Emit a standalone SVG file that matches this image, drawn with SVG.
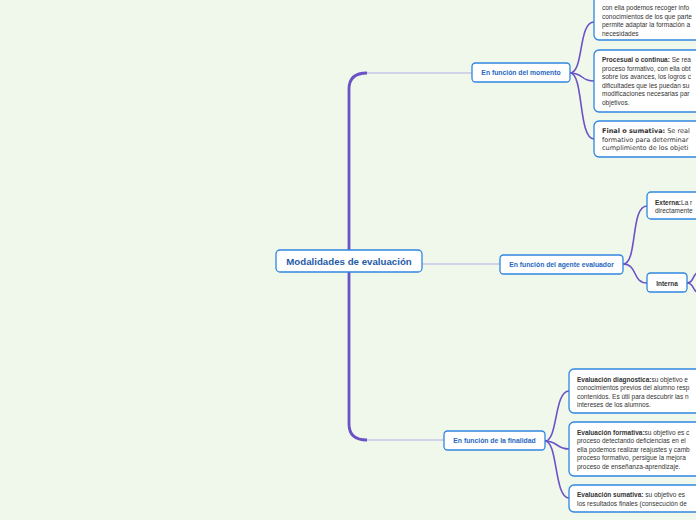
<svg xmlns="http://www.w3.org/2000/svg" width="696" height="520" viewBox="0 0 696 520">
<style>
.bg{fill:#f0f8ec}
.box{fill:#fff;stroke:#2f86e0;stroke-width:1.3}
.l1{font-family:"Liberation Sans",Arial,sans-serif;font-weight:bold;font-size:6.8px;fill:#1f68c0;text-anchor:middle}
.root{font-family:"Liberation Sans",Arial,sans-serif;font-weight:bold;font-size:9.7px;fill:#1f5aa8;text-anchor:middle}
.t{font-family:"Liberation Sans",Arial,sans-serif;font-size:6.5px;fill:#333333}
.b{font-weight:bold}
.tv{font-family:"DejaVu Sans",Verdana,sans-serif;font-size:6.5px;fill:#333333}
.thick{fill:none;stroke:#6b52c6;stroke-width:2.8}
.br{fill:none;stroke:#6b52c6;stroke-width:1.6}
.thin{fill:none;stroke:#b3addf;stroke-width:1}
</style>
<rect class="bg" x="0" y="0" width="696" height="520"/>
<g id="connectors">
<path class="thick" d="M349,262 V89 Q349,73 367,73"/>
<path class="thin" d="M367,73 H472"/>
<path class="thick" d="M349,262 V424 Q349,440 367,440"/>
<path class="thin" d="M367,440 H444"/>
<path class="thin" d="M422,264 H500"/>
<path class="br" d="M570,73 C584,73 578,22 594,22"/>
<path class="br" d="M570,73 C584,73 580,81 594,81"/>
<path class="br" d="M570,73 C584,73 578,139 594,139"/>
<path class="br" d="M623,264 C638,264 630,206 647,206"/>
<path class="br" d="M623,264 C638,264 632,283 647,283"/>
<path class="br" d="M687,283 C694,283 692,275 698,272"/>
<path class="br" d="M687,283 C694,283 692,290 698,293"/>
<path class="br" d="M545,441 C558,441 554,391 569,391"/>
<path class="br" d="M545,441 C558,441 556,449 569,449"/>
<path class="br" d="M545,441 C558,441 554,498 569,498"/>
</g>
<g id="root">
<rect class="box" x="276" y="250" width="146" height="22" rx="4"/>
<text class="root" x="349" y="264.5">Modalidades de evaluación</text>
</g>
<g id="momento">
<rect class="box" x="472" y="63" width="98" height="19" rx="3.5"/>
<text class="l1" x="521" y="75">En función del momento</text>
</g>
<g id="inicial">
<rect class="box" x="594" y="-20" width="130" height="60" rx="5"/>
<text class="t" x="602" y="10">con ella podemos recoger info</text>
<text class="t" x="602" y="18.5">conocimientos de los que parte</text>
<text class="t" x="602" y="27">permite adaptar la formación a</text>
<text class="t" x="602" y="35.5">necesidades</text>
</g>
<g id="procesual">
<rect class="box" x="594" y="50" width="130" height="62" rx="5"/>
<text class="t" x="602" y="62"><tspan class="b">Procesual o continua:</tspan> Se rea</text>
<text class="t" x="602" y="70.5">proceso formativo, con ella obt</text>
<text class="t" x="602" y="79">sobre los avances, los logros c</text>
<text class="t" x="602" y="87.5">dificultades que les puedan su</text>
<text class="t" x="602" y="96">modificaciones necesarias par</text>
<text class="t" x="602" y="104.5">objetivos.</text>
</g>
<g id="final">
<rect class="box" x="594" y="121" width="130" height="36" rx="5"/>
<text class="tv" x="602" y="133" fill="#333333"><tspan class="b">Final o sumativa:</tspan> Se real</text>
<text class="tv" x="602" y="141.5" fill="#333333">formativo para determinar</text>
<text class="tv" x="602" y="150" fill="#333333">cumplimiento de los objeti</text>
</g>
<g id="agente">
<rect class="box" x="500" y="255" width="123" height="19" rx="3.5"/>
<text class="l1" x="561.5" y="266.5">En función del agente evaluador</text>
</g>
<g id="externa">
<rect class="box" x="647" y="192" width="80" height="27" rx="4"/>
<text class="t" x="655" y="204.5"><tspan class="b">Externa:</tspan>La r</text>
<text class="t" x="655" y="213">directamente</text>
</g>
<g id="interna">
<rect class="box" x="647" y="273" width="40" height="19" rx="3.5"/>
<text class="t b" x="667" y="285.5" text-anchor="middle" font-size="7">Interna</text>
</g>
<g id="finalidad">
<rect class="box" x="444" y="431" width="101" height="19" rx="3.5"/>
<text class="l1" x="494.5" y="443">En función de la finalidad</text>
</g>
<g id="diagnostica">
<rect class="box" x="569" y="369" width="140" height="44" rx="5"/>
<text class="t" x="577" y="381.5"><tspan class="b">Evaluación diagnostica:</tspan>su objetivo e</text>
<text class="t" x="577" y="390">conocimientos previos del alumno resp</text>
<text class="t" x="577" y="398.5">contenidos. Es útil para descubrir las n</text>
<text class="t" x="577" y="407">intereses de los alumnos.</text>
</g>
<g id="formativa">
<rect class="box" x="569" y="422" width="140" height="54" rx="5"/>
<text class="t" x="577" y="434.5"><tspan class="b">Evaluación formativa:</tspan>su objetivo es c</text>
<text class="t" x="577" y="443">proceso detectando deficiencias en el</text>
<text class="t" x="577" y="451.5">ella podemos realizar reajustes y camb</text>
<text class="t" x="577" y="460">proceso formativo, persigue la mejora</text>
<text class="t" x="577" y="468.5">proceso de enseñanza-aprendizaje.</text>
</g>
<g id="sumativa">
<rect class="box" x="569" y="485" width="140" height="27" rx="5"/>
<text class="t" x="577" y="497"><tspan class="b">Evaluación sumativa:</tspan> su objetivo es</text>
<text class="t" x="577" y="505.5">los resultados finales (consecución de</text>
</g>
</svg>
